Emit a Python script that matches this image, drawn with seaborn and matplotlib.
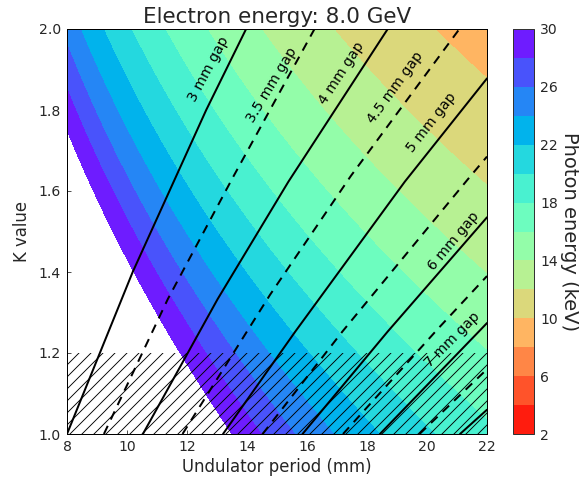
import numpy as np
import pandas as pd
import matplotlib
matplotlib.use("Agg")
import matplotlib.pyplot as plt
import seaborn as sns

# ---- data ----
electron_energy_gev = 8.0
energy_levels = list(range(2, 31, 2))          # keV contour bands
cbar_ticks = [2, 6, 10, 14, 18, 22, 26, 30]
period_range = [8, 22]                          # mm
k_range = [1.0, 2.0]
k_limit = 1.2                                   # hatched below this K

# gap lines: (period mm, K)
gap_3_0 = [(8.0, 1.0), (10.19, 1.4), (12.64, 1.8), (13.97, 2.0)]
gap_3_5 = [(9.23, 1.0), (11.36, 1.333), (13.54, 1.635), (16.25, 2.0)]
gap_4_0 = [(10.53, 1.0), (13.02, 1.333), (15.38, 1.623), (18.69, 2.0)]
gap_4_5 = [(11.85, 1.0), (14.77, 1.344), (17.46, 1.637), (21.08, 2.0)]
gap_5_0 = [(13.2, 1.0), (15.61, 1.253), (19.26, 1.623), (22.0, 1.878)]
gap_5_5 = [(14.52, 1.0), (17.18, 1.253), (21.44, 1.636), (22.0, 1.685)]
gap_6_0 = [(15.85, 1.0), (18.69, 1.253), (22.0, 1.535)]
gap_6_5 = [(17.2, 1.0), (20.38, 1.261), (22.0, 1.39)]
gap_7_0 = [(18.43, 1.0), (21.78, 1.257), (22.0, 1.274)]
gap_7_5 = [(19.75, 1.0), (22.0, 1.16)]
gap_8_0 = [(21.1, 1.0), (22.0, 1.06)]

gap_values = [3.0, 3.5, 4.0, 4.5, 5.0, 5.5, 6.0, 6.5, 7.0, 7.5, 8.0]
gap_lines = [gap_3_0, gap_3_5, gap_4_0, gap_4_5, gap_5_0, gap_5_5,
             gap_6_0, gap_6_5, gap_7_0, gap_7_5, gap_8_0]

label_texts = ["3 mm gap", "3.5 mm gap", "4 mm gap", "4.5 mm gap", "5 mm gap", "6 mm gap", "7 mm gap"]
label_period = [12.72, 14.83, 17.15, 18.95, 20.15, 20.88, 20.85]
label_k = [1.90, 1.862, 1.89, 1.856, 1.769, 1.477, 1.232]
label_rot = [62, 59, 57, 54, 52, 50, 45]

# ---- style ----
sns.set_style("ticks")
plt.rcParams.update({
    "font.family": ["DejaVu Sans"],
    "xtick.direction": "in", "ytick.direction": "in",
    "xtick.top": True, "ytick.right": True,
    "axes.edgecolor": "black", "axes.linewidth": 1.0,
    "hatch.linewidth": 0.9,
})

W, H = 579, 481
fig = plt.figure(figsize=(W / 72, H / 72), dpi=72)
ax = fig.add_axes([67 / W, (H - 434) / H, 420 / W, 405 / H])
cax = fig.add_axes([513 / W, (H - 434) / H, 21 / W, 405 / H])

# photon energy field (undulator equation, first harmonic)
P = np.linspace(period_range[0], period_range[1], 400)
K = np.linspace(k_range[0], k_range[1], 400)
PP, KK = np.meshgrid(P, K)
E = 0.9496 * electron_energy_gev ** 2 / ((PP / 10.0) * (1 + KK ** 2 / 2))

cs = ax.contourf(PP, KK, E, levels=energy_levels, cmap="rainbow_r")

# hatched region
ax.fill_between(period_range, k_range[0], k_limit, facecolor="none",
                edgecolor="black", hatch="//", linewidth=0, zorder=2)

# gap lines
rows = []
for g, pts in zip(gap_values, gap_lines):
    for i, (p, k) in enumerate(pts):
        rows.append({"gap": g, "period": p, "K": k, "order": i})
df = pd.DataFrame(rows)
for g in gap_values:
    sub = df[df.gap == g]
    ls = "-" if float(g).is_integer() else (0, (4.5, 3.5))
    sns.lineplot(data=sub, x="period", y="K", sort=False, estimator=None,
                 ax=ax, color="black", linewidth=2.0, linestyle=ls, zorder=3)

for t, p, k, r in zip(label_texts, label_period, label_k, label_rot):
    ax.text(p, k, t, rotation=r, rotation_mode="anchor", ha="center", va="center",
            fontsize=14, color="black", zorder=4)

ax.set_xlim(period_range)
ax.set_ylim(k_range)
ax.set_xticks(range(8, 23, 2))
ax.set_yticks([1.0, 1.2, 1.4, 1.6, 1.8, 2.0])
ax.set_yticklabels(["1.0", "1.2", "1.4", "1.6", "1.8", "2.0"])
ax.tick_params(labelsize=14, length=4, width=0.8, pad=6)
ax.set_xlabel("Undulator period (mm)", fontsize=16.5, labelpad=4)
ax.set_ylabel("K value", fontsize=16.5, labelpad=8)
ax.set_title(f"Electron energy: {electron_energy_gev:.1f} GeV", fontsize=21.5, pad=6)
for s in ax.spines.values():
    s.set_zorder(5)

cb = fig.colorbar(cs, cax=cax, ticks=cbar_ticks)
cb.ax.tick_params(labelsize=14, direction="in", length=4, width=0.8, pad=6)
cb.outline.set_edgecolor("#333333")
cb.set_label("Photon energy (keV)", fontsize=19.5, rotation=270, labelpad=21)

fig.savefig("out.png", dpi=72)
